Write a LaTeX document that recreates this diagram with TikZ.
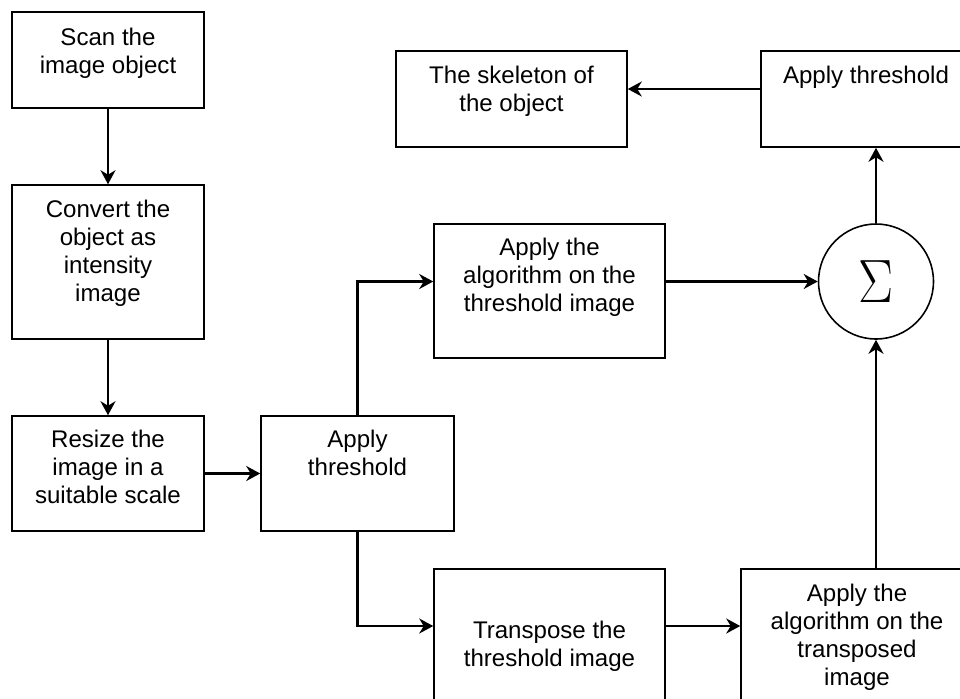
\documentclass[tikz,border=0pt]{standalone}
\usepackage{fontspec}
\setmainfont{Liberation Sans}
\usetikzlibrary{arrows.meta}

\begin{document}
\begin{tikzpicture}[x = 0.02cm, y = -0.02cm,
    box/.style = {draw, line width = 0.9pt, align = center, inner sep = 0pt, font = \fontsize{13.7pt}{15.9pt}\selectfont},
    arr/.style = {line width = 1.3pt, -{Stealth[length = 0.28cm, width = 0.3cm, inset = 0.09cm]}}]

    \clip (0,0) rectangle (960,698);

    % left column
    \node[box, minimum width = 3.84cm, minimum height = 1.92cm, text depth = 0.38cm] (scan) at (108,60) {Scan the\\image object};
    \node[box, minimum width = 3.84cm, minimum height = 3.08cm, text depth = 0.46cm] (conv) at (108,262) {Convert the\\object as\\intensity\\image};
    \node[box, minimum width = 3.84cm, minimum height = 2.3cm, text depth = 0.26cm] (res) at (108,473.5) {Resize the\\image in a\\suitable scale};
    \node[box, minimum width = 3.86cm, minimum height = 2.3cm, text depth = 0.82cm] (thr) at (357.5,473.5) {Apply\\threshold};

    % two branches
    \node[box, minimum width = 4.62cm, minimum height = 2.68cm, text depth = 0.66cm] (alg) at (549.5,291) {Apply the\\algorithm on the\\threshold image};
    \node[box, minimum width = 4.62cm, minimum height = 3.42cm, text depth = 0.44cm] (trn) at (549.5,654.5) {Transpose the\\threshold image};
    \node[box, minimum width = 4.64cm, minimum height = 3.42cm, text depth = 0.8cm] (algT) at (857,654.5) {Apply the\\algorithm on the\\transposed\\image};

    % sum and output
    \node[draw, circle, line width = 0.9pt, inner sep = 0pt, minimum size = 2.3cm] (sum) at (876,281.5) {\fontsize{24.88pt}{25pt}\selectfont\scalebox{1.2}[1.4]{$\Sigma$}};
    \node[box, minimum width = 4.2cm, minimum height = 1.92cm, text depth = 0.98cm] (thrOut) at (866,99) {Apply threshold};
    \node[box, minimum width = 4.62cm, minimum height = 1.92cm, text depth = 0.42cm] (skel) at (511.5,99) {The skeleton of\\the object};

    \draw[arr] (scan.south) -- (conv.north);
    \draw[arr] (conv.south) -- (res.north);
    \draw[arr] (res.east) -- (thr.west);
    \draw[arr] (thr.north) |- (alg.west |- sum.west);
    \draw[arr] (thr.south) |- ([yshift = 0.57cm]trn.west);
    \draw[arr] ([yshift = 0.57cm]trn.east) -- ([yshift = 0.57cm]trn.east -| algT.west);
    \draw[arr] (alg.east |- sum.west) -- (sum.west);
    \draw[arr] (sum.south |- algT.north) -- (sum.south);
    \draw[arr] (sum.north) -- (sum.north |- thrOut.south);
    \draw[arr] ([yshift = 0.2cm]thrOut.west) -- ([yshift = 0.2cm]skel.east);
\end{tikzpicture}
\end{document}
